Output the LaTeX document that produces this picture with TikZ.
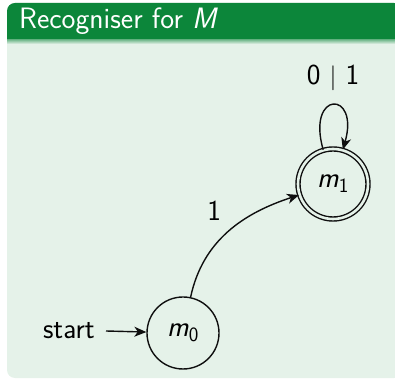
\documentclass[tikz,border=0pt]{standalone}
\usetikzlibrary{arrows.meta}
\definecolor{titlegreen}{RGB}{12,134,58}
\definecolor{bodygreen}{RGB}{229,242,233}
\definecolor{edgegray}{RGB}{15,15,15}
\tikzset{
  state/.style={circle, draw=edgegray, line width=1.4pt, minimum size=72pt, inner sep=0pt, font=\sffamily\fontsize{29}{34}\selectfont},
  accept/.style={state, double=bodygreen, double distance=2.6pt, minimum size=70pt},
  trans/.style={draw=edgegray, line width=1.4pt, -{Stealth[length=12pt,width=10pt,inset=3.5pt]}},
  lbl/.style={font=\sffamily\fontsize{29}{34}\selectfont, text=black, inner sep=2pt},
}
\begin{document}
\begin{tikzpicture}[x=1pt,y=1pt]
\useasboundingbox (0,0) rectangle (395,379);
\clip (0,0) rectangle (395,379);
% block body
\fill[bodygreen, rounded corners=8pt] (7,1) rectangle (402,376);
% title bar
\fill[titlegreen, rounded corners=8pt] (7,339) rectangle (402,376);
\fill[titlegreen] (7,339) rectangle (402,352);
\shade[top color=titlegreen!55!bodygreen, bottom color=bodygreen] (7,335) rectangle (402,339.5);
\node[anchor=base west, inner sep=0pt, text=white, font=\sffamily\fontsize{29.5}{34}\selectfont] (title) at (19,350) {Recogniser for \textit{M}};
% states
\node[state] (m0) at (183,46) {\textit{m}\textsubscript{0}};
\node[accept] (m1) at (333,195) {\textit{m}\textsubscript{1}};
% start
\node[lbl, anchor=east] (start) at (97,48) {start};
\path (start.east) ++(9,0) coordinate (s0);
\draw[trans] (s0) -- (m0);
% transitions
\draw[trans] (m0) to[out=78, in=198] node[lbl, pos=0.5, above left=1pt, xshift=-4pt, yshift=7pt] (one) {1} (m1);
\draw[trans] (m1.106) to[out=106, in=74, distance=62pt] node[lbl, above=12pt, pos=0.5] (loop) {0 $|$ 1} (m1.74);
\end{tikzpicture}
\end{document}
